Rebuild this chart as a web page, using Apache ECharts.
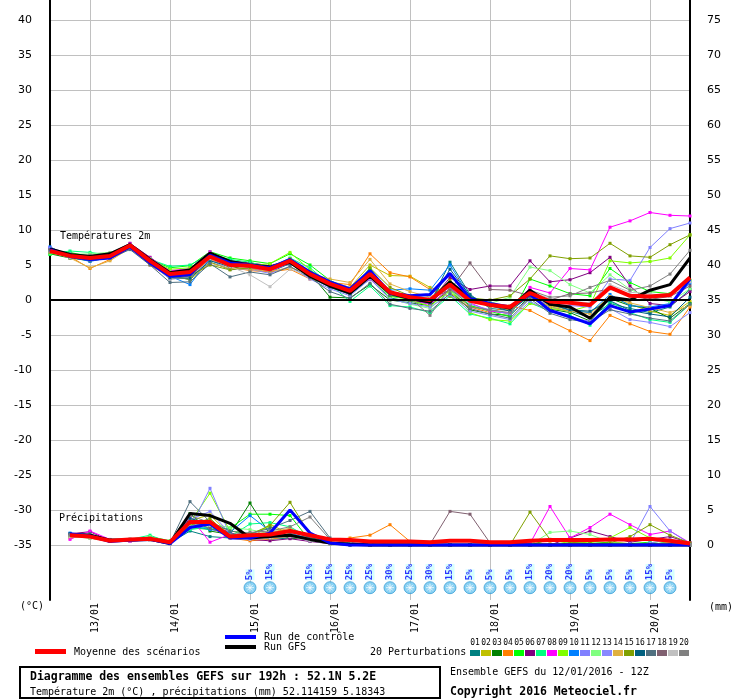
<!DOCTYPE html>
<html>
<head>
<meta charset="utf-8">
<script src="https://cdn.jsdelivr.net/npm/echarts@6/dist/echarts.min.js"></script>
<style>
  html, body { margin: 0; padding: 0; background: #fff; }
  #chart { width: 740px; height: 700px; }
</style>
</head>
<body>
<div id="chart"></div>
<script>
// time steps of the run (6h), 12/01 12Z -> 20/01 12Z
const times = [
  '12/01 12Z', '12/01 18Z', '13/01 00Z', '13/01 06Z', '13/01 12Z', '13/01 18Z',
  '14/01 00Z', '14/01 06Z', '14/01 12Z', '14/01 18Z', '15/01 00Z', '15/01 06Z',
  '15/01 12Z', '15/01 18Z', '16/01 00Z', '16/01 06Z', '16/01 12Z', '16/01 18Z',
  '17/01 00Z', '17/01 06Z', '17/01 12Z', '17/01 18Z', '18/01 00Z', '18/01 06Z',
  '18/01 12Z', '18/01 18Z', '19/01 00Z', '19/01 06Z', '19/01 12Z', '19/01 18Z',
  '20/01 00Z', '20/01 06Z', '20/01 12Z'
];

const tempTicks = [-35, -30, -25, -20, -15, -10, -5, 0, 5, 10, 15, 20, 25, 30, 35, 40];
const rainTicks = [0, 5, 10, 15, 20, 25, 30, 35, 40, 45, 50, 55, 60, 65, 70, 75];

// temperature 2m (°C)
const tempMean    = [7.0, 6.3, 6.0, 6.3, 7.8, 5.6, 3.7, 4.0, 6.2, 5.0, 4.9, 4.4, 5.6, 3.7, 2.3, 1.3, 3.7, 1.1, 0.4, 0.0, 2.2, -0.1, -0.7, -1.0, 1.0, -0.2, -0.4, -0.7, 1.8, 0.6, 0.5, 0.7, 3.2];
const tempControl = [7.2, 6.2, 5.8, 6.0, 7.6, 5.3, 3.4, 3.6, 6.4, 5.3, 5.0, 4.6, 5.8, 4.0, 2.6, 1.6, 4.2, 1.0, 0.6, 0.8, 3.8, 0.2, -0.5, -1.0, 0.8, -1.5, -2.4, -3.4, -0.8, -1.7, -1.3, -0.8, 3.0];
const tempGfs     = [7.3, 6.5, 6.2, 6.6, 7.9, 5.8, 3.9, 4.3, 6.7, 5.5, 5.0, 4.7, 5.4, 3.4, 2.0, 1.0, 3.4, 1.0, 0.2, -0.3, 2.6, 0.2, -0.6, -1.2, 1.4, -0.6, -1.0, -2.6, 0.4, 0.0, 1.4, 2.2, 6.0];

const tempP01 = [7.2, 6.0, 5.9, 6.2, 7.5, 5.4, 3.2, 3.4, 6.0, 4.6, 4.5, 4.0, 5.2, 3.3, 1.8, 0.8, 3.0, 0.3, -0.2, -0.5, 5.4, 0.8, -1.2, -1.5, 0.5, -1.0, -1.6, -2.5, -0.5, -1.2, -1.8, -1.0, 1.5];
const tempP02 = [6.9, 6.4, 5.9, 6.4, 7.7, 5.3, 3.0, 3.2, 6.1, 4.8, 4.7, 4.2, 5.5, 3.6, 2.6, 1.8, 5.0, 3.5, 3.4, 1.8, 1.0, -0.8, -1.5, -2.0, 0.2, -0.8, -1.4, -1.8, 0.4, -0.6, -1.6, -2.2, -0.2];
const tempP03 = [6.6, 6.0, 5.6, 6.1, 7.6, 5.2, 3.5, 2.9, 5.4, 4.4, 5.2, 4.8, 5.8, 3.8, 0.4, 0.3, 2.2, 0.0, -0.4, -0.8, 1.5, -1.4, -2.0, -2.2, 0.5, -1.3, -1.8, -3.0, 0.2, -0.8, -1.2, -2.6, -0.5];
const tempP04 = [7.0, 6.2, 4.5, 5.8, 7.4, 5.0, 3.2, 3.5, 5.8, 4.7, 4.2, 4.0, 4.4, 3.0, 2.5, 2.2, 6.6, 3.9, 3.3, 1.5, 0.5, -1.0, -1.8, -0.8, -1.5, -3.0, -4.4, -5.8, -2.2, -3.4, -4.5, -4.9, -1.0];
const tempP05 = [6.5, 6.8, 6.2, 6.5, 7.8, 5.8, 4.6, 4.9, 6.9, 6.0, 5.6, 5.2, 6.6, 5.0, 2.8, 1.5, 4.5, 0.5, 0.2, -0.6, 1.6, -0.8, -1.6, -2.4, 3.0, 2.0, 0.9, 0.6, 4.5, 2.5, 1.2, 0.9, 2.8];
const tempP06 = [7.3, 6.4, 6.3, 6.6, 8.1, 6.1, 4.1, 4.4, 6.6, 5.6, 5.3, 4.9, 5.7, 3.9, 2.2, 0.8, 3.6, 0.8, 0.2, -0.2, 3.2, 1.5, 2.0, 2.0, 5.6, 2.6, 2.9, 3.9, 6.1, 2.0, -0.5, -0.8, 1.2];
const tempP07 = [6.6, 7.0, 6.8, 6.4, 7.4, 5.8, 4.8, 5.0, 6.5, 5.8, 5.4, 4.6, 6.0, 4.6, 2.2, -0.2, 2.0, -0.8, -1.0, -1.8, 0.6, -2.0, -2.6, -3.4, -0.4, -1.6, -2.2, -3.6, -0.2, -1.8, -2.8, -3.2, -0.6];
const tempP08 = [7.5, 6.4, 6.0, 6.6, 8.0, 6.0, 4.2, 4.5, 6.9, 5.2, 4.6, 4.1, 5.3, 3.3, 2.0, 1.2, 3.0, 0.9, 0.0, -0.6, 1.6, -0.4, -1.6, -1.9, 1.8, 1.0, 4.5, 4.3, 10.4, 11.3, 12.5, 12.1, 12.0];
const tempP09 = [6.8, 6.1, 6.2, 6.4, 7.7, 5.7, 4.4, 4.6, 6.4, 5.1, 4.9, 5.2, 6.8, 4.3, 2.4, 1.0, 3.2, 0.6, 0.0, -0.9, 1.4, -1.8, -2.8, -3.0, -0.5, -1.2, -1.6, -0.8, 5.6, 5.3, 5.5, 6.0, 9.3];
const tempP10 = [7.6, 6.2, 5.5, 6.1, 7.6, 5.6, 3.4, 2.2, 6.0, 4.8, 5.0, 4.5, 5.5, 3.8, 2.5, 1.4, 4.0, 1.4, 1.6, 1.4, 5.0, 0.5, -0.4, -1.0, 0.9, -0.5, -1.5, -1.8, 0.8, -0.8, -1.0, -0.5, 2.4];
const tempP11 = [7.4, 6.6, 6.0, 6.2, 7.5, 5.5, 3.4, 3.8, 6.2, 5.0, 4.8, 4.3, 5.4, 3.5, 2.0, 0.9, 3.5, 1.0, 0.5, -0.1, 1.8, -0.6, -1.4, -2.0, 0.2, -0.6, -0.8, -1.0, 3.0, 2.8, 7.5, 10.2, 11.0];
const tempP12 = [6.7, 6.5, 6.6, 6.8, 7.6, 5.9, 4.0, 4.2, 6.0, 5.2, 5.0, 4.7, 5.9, 4.1, 2.6, 1.7, 4.0, 0.2, -0.6, -1.2, 1.2, -0.3, -0.5, 0.4, 4.7, 4.2, 2.2, 1.0, 3.6, 1.5, 0.4, -0.3, 1.6];
const tempP13 = [7.1, 6.2, 5.7, 6.0, 7.3, 5.2, 3.0, 3.2, 5.7, 4.4, 4.4, 3.8, 4.8, 3.0, 1.6, 0.6, 3.0, 0.1, -0.5, -1.0, 0.8, -1.6, -2.2, -2.8, -0.2, -1.6, -2.6, -3.0, -1.2, -2.8, -3.2, -3.8, -1.8];
const tempP14 = [6.9, 6.0, 4.6, 5.6, 7.4, 5.1, 3.3, 3.0, 5.3, 4.5, 4.4, 4.1, 4.6, 3.8, 3.0, 2.5, 5.8, 2.3, 1.2, 0.4, 2.0, 0.4, -0.9, -1.4, 0.6, -1.0, -1.6, -2.0, 0.5, -0.4, -1.1, -1.8, -0.8];
const tempP15 = [6.8, 6.3, 5.8, 6.0, 7.5, 5.4, 3.6, 3.5, 5.0, 4.3, 4.6, 4.5, 5.9, 4.0, 2.1, 0.9, 4.6, 1.8, 0.6, 0.2, 2.8, 0.3, 0.0, 0.6, 3.0, 6.3, 5.9, 6.0, 8.1, 6.3, 6.1, 7.9, 9.3];
const tempP16 = [7.0, 6.1, 5.9, 6.2, 7.4, 5.3, 3.2, 3.1, 5.6, 4.8, 4.8, 4.3, 5.3, 3.4, 1.9, 0.9, 3.3, 0.7, 0.1, -0.4, 4.4, 0.6, -0.8, -1.6, 0.7, -0.6, -1.4, -1.6, -0.1, -1.5, -2.0, -2.4, 0.4];
const tempP17 = [7.2, 6.4, 5.6, 6.0, 7.2, 5.0, 2.5, 2.6, 5.2, 3.3, 4.0, 3.6, 4.8, 3.2, 1.2, 0.2, 2.4, -0.6, -1.2, -1.6, 0.9, -1.2, -2.0, -2.6, 0.2, -1.9, -2.8, -3.2, -1.4, -2.0, -2.6, -3.0, -0.6];
const tempP18 = [7.1, 6.3, 6.0, 6.4, 7.7, 5.6, 3.6, 3.9, 6.2, 5.2, 5.0, 4.4, 5.6, 3.6, 2.1, 1.1, 3.4, 0.8, 0.5, 0.2, 1.4, 5.3, 1.5, 1.4, 0.6, 0.0, 0.9, 1.0, 1.6, 0.6, 0.1, 0.5, 2.0];
const tempP19 = [6.9, 6.1, 6.1, 6.3, 7.5, 5.5, 3.8, 4.0, 5.9, 4.8, 3.6, 1.9, 4.4, 3.5, 2.6, 1.8, 3.8, 1.2, 0.6, 0.3, 2.0, -0.2, -0.6, -0.8, 1.2, 0.2, -0.2, -0.4, 2.2, 1.1, 0.9, 0.5, 2.6];
const tempP20 = [7.0, 6.5, 6.4, 6.7, 7.9, 5.8, 3.9, 4.2, 6.3, 5.0, 4.9, 4.4, 5.6, 3.7, 2.4, 1.4, 3.9, 1.2, 0.3, -2.2, 1.8, -1.0, -1.4, -1.8, 1.4, 0.4, 0.6, 1.8, 2.8, 1.4, 2.0, 3.7, 7.1];

// precipitation (mm), from the +6h step onward
const rainMean    = [1.4, 1.2, 0.6, 0.8, 0.9, 0.4, 3.3, 3.3, 1.2, 1.4, 1.5, 2.0, 1.4, 0.8, 0.7, 0.5, 0.5, 0.5, 0.4, 0.6, 0.6, 0.4, 0.4, 0.6, 0.7, 0.7, 0.7, 0.8, 0.8, 0.9, 0.6, 0.2];
const rainControl = [1.6, 1.3, 0.5, 0.7, 0.8, 0.2, 2.5, 3.0, 1.0, 1.0, 1.7, 5.0, 1.7, 0.3, 0.0, 0.0, 0.0, 0.0, 0.0, 0.0, 0.0, 0.0, 0.0, 0.0, 0.0, 0.0, 0.0, 0.0, 0.0, 0.0, 0.0, 0.0];
const rainGfs     = [1.5, 1.4, 0.7, 0.7, 0.8, 0.2, 4.5, 4.2, 3.1, 1.0, 1.2, 1.4, 0.8, 0.3, 0.1, 0.0, 0.0, 0.0, 0.0, 0.0, 0.0, 0.0, 0.0, 0.0, 0.0, 0.0, 0.0, 0.0, 0.0, 0.0, 0.0, 0.0];

const rainP01 = [1.4, 1.2, 0.6, 0.6, 0.8, 0.3, 2.0, 1.2, 1.0, 1.6, 0.8, 1.0, 1.0, 0.4, 0.3, 0.2, 0.4, 0.0, 0.1, 0.0, 0.0, 0.0, 0.2, 0.1, 0.0, 0.3, 0.2, 0.0, 0.1, 0.0, 0.2, 0.0];
const rainP02 = [1.2, 1.0, 0.5, 0.7, 0.8, 0.3, 3.5, 4.3, 1.5, 0.8, 3.0, 1.5, 0.6, 0.2, 0.1, 0.0, 0.2, 0.1, 0.0, 0.0, 0.0, 0.0, 0.0, 0.3, 0.1, 0.0, 0.0, 0.4, 0.2, 0.0, 0.5, 0.0];
const rainP03 = [1.5, 1.3, 0.7, 0.8, 1.0, 0.5, 4.5, 2.0, 1.5, 6.0, 1.5, 1.0, 0.8, 0.2, 0.3, 0.0, 0.0, 0.0, 0.0, 0.0, 0.0, 0.0, 0.0, 0.0, 0.0, 0.1, 0.0, 0.0, 0.0, 0.0, 0.0, 0.0];
const rainP04 = [1.0, 1.4, 0.5, 0.6, 0.7, 0.2, 2.6, 3.4, 1.0, 0.6, 0.8, 1.3, 1.2, 0.6, 1.0, 1.4, 2.9, 0.5, 0.0, 0.0, 0.0, 0.0, 0.0, 0.1, 0.0, 0.2, 0.0, 0.0, 0.0, 0.0, 0.3, 0.2];
const rainP05 = [1.3, 1.0, 0.6, 0.6, 1.2, 0.6, 2.5, 2.2, 2.4, 4.4, 4.4, 4.2, 0.6, 0.3, 0.2, 0.0, 0.1, 0.0, 0.0, 0.0, 0.0, 0.0, 0.0, 0.0, 0.8, 0.6, 0.5, 0.3, 0.2, 0.4, 0.0, 0.0];
const rainP06 = [1.6, 1.9, 0.6, 0.7, 0.8, 0.3, 3.0, 2.8, 1.8, 0.8, 0.6, 0.9, 0.5, 0.2, 0.3, 0.1, 0.0, 0.0, 0.0, 0.0, 0.0, 0.0, 0.3, 0.0, 0.0, 1.0, 2.0, 1.2, 0.4, 0.8, 1.2, 0.3];
const rainP07 = [1.5, 1.2, 0.7, 0.8, 1.4, 0.3, 2.2, 2.6, 1.2, 3.0, 3.2, 2.6, 1.0, 0.4, 0.1, 0.0, 0.0, 0.0, 0.0, 0.0, 0.0, 0.0, 0.0, 0.0, 0.0, 0.0, 0.0, 0.2, 0.0, 0.0, 0.5, 0.0];
const rainP08 = [0.8, 2.0, 0.8, 0.5, 0.8, 0.2, 4.0, 0.4, 1.5, 1.4, 1.8, 1.2, 0.9, 0.3, 0.2, 0.0, 0.0, 0.0, 0.0, 0.0, 0.0, 0.0, 0.0, 0.2, 5.5, 1.0, 2.5, 4.4, 2.9, 1.5, 2.0, 0.3];
const rainP09 = [1.2, 1.1, 0.6, 0.7, 1.0, 0.3, 3.2, 7.4, 2.0, 1.6, 2.6, 1.6, 0.8, 0.2, 0.0, 0.0, 0.0, 0.0, 0.0, 0.0, 0.0, 0.0, 0.0, 0.0, 0.0, 0.5, 0.3, 1.0, 2.5, 1.0, 0.5, 0.0];
const rainP10 = [1.7, 1.4, 0.6, 0.7, 0.9, 0.2, 2.8, 2.2, 1.8, 4.2, 2.0, 1.7, 0.9, 0.3, 0.2, 0.0, 0.0, 0.0, 0.0, 0.0, 0.0, 0.0, 0.0, 0.0, 0.0, 0.0, 0.0, 0.0, 0.0, 0.2, 0.0, 0.0];
const rainP11 = [1.4, 1.2, 0.6, 0.8, 0.8, 0.3, 2.4, 8.1, 1.4, 1.2, 1.8, 1.4, 0.8, 0.3, 0.1, 0.0, 0.0, 0.0, 0.0, 0.0, 0.0, 0.0, 0.0, 0.0, 0.0, 0.0, 0.0, 0.0, 0.2, 5.5, 2.0, 0.2];
const rainP12 = [1.3, 1.5, 0.7, 0.8, 1.2, 0.4, 2.8, 3.0, 2.5, 2.2, 1.6, 2.2, 1.2, 0.4, 0.2, 0.0, 0.0, 0.0, 0.0, 0.0, 0.0, 0.0, 0.0, 0.0, 1.8, 2.0, 1.5, 0.4, 0.0, 0.0, 0.3, 0.0];
const rainP13 = [1.5, 1.1, 0.5, 0.6, 0.7, 0.2, 3.6, 4.8, 1.6, 1.0, 1.4, 1.3, 0.6, 0.2, 0.0, 0.0, 0.0, 0.0, 0.0, 0.0, 0.0, 0.0, 0.0, 0.0, 0.0, 0.0, 0.0, 0.0, 0.0, 0.3, 0.8, 0.0];
const rainP14 = [1.2, 1.3, 0.7, 0.7, 0.8, 0.3, 3.0, 3.5, 1.4, 1.0, 1.8, 2.4, 1.0, 0.3, 0.1, 0.0, 0.3, 0.2, 0.0, 0.0, 0.0, 0.0, 0.0, 0.0, 0.2, 0.0, 0.0, 0.0, 0.0, 0.0, 0.4, 0.0];
const rainP15 = [1.3, 1.2, 0.6, 0.7, 0.8, 0.3, 2.8, 3.8, 1.2, 1.5, 2.8, 6.1, 1.5, 0.4, 0.1, 0.0, 0.0, 0.0, 0.0, 0.0, 0.0, 0.0, 0.0, 4.7, 0.8, 0.4, 0.2, 0.3, 1.2, 2.9, 1.4, 0.3];
const rainP16 = [1.6, 1.3, 0.6, 0.7, 0.9, 0.2, 3.8, 3.0, 1.6, 1.2, 1.3, 1.9, 1.1, 0.4, 0.0, 0.0, 0.0, 0.0, 0.0, 0.0, 0.0, 0.0, 0.0, 0.0, 0.0, 0.0, 0.0, 0.0, 0.0, 0.0, 0.0, 0.0];
const rainP17 = [1.5, 1.6, 0.6, 0.8, 0.9, 0.3, 6.2, 3.3, 2.0, 1.6, 2.4, 3.5, 4.8, 1.0, 0.2, 0.0, 0.0, 0.0, 0.0, 0.0, 0.0, 0.0, 0.0, 0.0, 0.0, 0.0, 0.0, 0.0, 0.0, 0.0, 0.0, 0.0];
const rainP18 = [1.4, 1.2, 0.6, 0.7, 0.8, 0.2, 3.4, 2.4, 1.3, 1.0, 1.2, 1.5, 0.9, 0.3, 0.0, 0.0, 0.3, 0.3, 0.1, 4.8, 4.4, 0.3, 0.0, 0.0, 0.0, 0.0, 0.0, 0.0, 0.0, 0.0, 0.0, 0.0];
const rainP19 = [1.2, 1.0, 0.5, 0.6, 0.7, 0.2, 2.6, 2.8, 1.0, 0.8, 1.0, 1.2, 0.6, 0.2, 0.1, 0.0, 0.0, 0.0, 0.0, 0.0, 0.0, 0.0, 0.0, 0.0, 0.0, 0.0, 0.0, 0.0, 0.0, 0.0, 0.0, 0.0];
const rainP20 = [1.4, 1.3, 0.6, 0.8, 1.0, 0.3, 4.2, 3.2, 1.5, 1.8, 2.0, 2.6, 4.0, 0.8, 0.2, 0.0, 0.0, 0.0, 0.0, 0.0, 0.0, 0.0, 0.0, 0.0, 0.0, 0.0, 0.0, 0.0, 0.0, 0.0, 0.0, 0.0];

// snow probability (%) per step, null = no icon
const snowPct = [null, null, null, null, null, null, null, null, null, null, 5, 15, null, 15, 15, 25, 25, 30, 25, 30, 15, 5, 5, 5, 15, 20, 20, 5, 5, 5, 15, 5, null];

const memberColors = [
  '#008080', '#c0c000', '#008000', '#ff8000', '#00ff00', '#800080', '#00ff80', '#ff00ff', '#80ff00', '#0080ff',
  '#8080ff', '#80ff80', '#8888ff', '#e0b040', '#80a000', '#006080', '#507080', '#806070', '#c0c0c0', '#808080'
];
const tempMembers = [tempP01, tempP02, tempP03, tempP04, tempP05, tempP06, tempP07, tempP08, tempP09, tempP10,
                     tempP11, tempP12, tempP13, tempP14, tempP15, tempP16, tempP17, tempP18, tempP19, tempP20];
const rainMembers = [rainP01, rainP02, rainP03, rainP04, rainP05, rainP06, rainP07, rainP08, rainP09, rainP10,
                     rainP11, rainP12, rainP13, rainP14, rainP15, rainP16, rainP17, rainP18, rainP19, rainP20];

const MONO = 'DejaVu Sans Mono';
// 7 px per degree, 0 line in the middle of a 600 px high plot
const T_MIN = -300 / 7, T_MAX = 300 / 7;
const isDay = (i, v) => v.endsWith('00Z');

const chart = echarts.init(document.getElementById('chart'));

const series = [];
tempMembers.forEach((arr, k) => {
  series.push({
    type: 'line', data: arr, yAxisIndex: 0,
    symbol: 'rect', symbolSize: 3, showSymbol: true,
    lineStyle: { width: 1, color: memberColors[k] },
    itemStyle: { color: memberColors[k] },
    silent: true, z: 2
  });
});
rainMembers.forEach((arr, k) => {
  series.push({
    type: 'line', data: [null].concat(arr), yAxisIndex: 1,
    symbol: 'rect', symbolSize: 3, showSymbol: true,
    lineStyle: { width: 1, color: memberColors[k] },
    itemStyle: { color: memberColors[k] },
    silent: true, z: 2
  });
});

const thick = (data, color, width, axis) => ({
  type: 'line', data: data, yAxisIndex: axis, symbol: 'none',
  lineStyle: { width: width, color: color }, itemStyle: { color: color }, silent: true, z: 3
});
series.push(thick(tempGfs, '#000000', 3, 0));
series.push(thick(tempControl, '#0000ff', 3, 0));
series.push(thick([null].concat(rainGfs), '#000000', 3, 1));
series.push(thick([null].concat(rainControl), '#0000ff', 3, 1));
series.push(Object.assign(thick(tempMean, '#ff0000', 4, 0), {
  z: 4,
  markLine: {
    silent: true, symbol: 'none', label: { show: false },
    lineStyle: { color: '#000', width: 2, type: 'solid' },
    data: [{ yAxis: 0 }]
  }
}));
series.push(Object.assign(thick([null].concat(rainMean), '#ff0000', 4, 1), { z: 4 }));

// snow icons below the plot
const snowData = snowPct.map((p, i) => (p == null ? null : [i, -41.1]));
series.push({
  type: 'scatter', data: snowData, yAxisIndex: 0, symbol: 'circle', symbolSize: 12,
  itemStyle: { color: '#6cc6f0', borderColor: '#3a9fd6', borderWidth: 1 },
  label: {
    show: true, position: 'top', distance: 1, rotate: 90, align: 'left', verticalAlign: 'middle',
    formatter: p => snowPct[p.dataIndex] + '%',
    color: '#0000ff', fontSize: 9, fontWeight: 'bold', fontFamily: MONO,
    backgroundColor: '#ccffff'
  },
  silent: true, z: 5
});
series.push({
  type: 'scatter', data: snowData, yAxisIndex: 0,
  symbol: 'path://M5 0L5 10M0 5L10 5M1.5 1.5L8.5 8.5M8.5 1.5L1.5 8.5', symbolSize: 8,
  itemStyle: { color: 'none', borderColor: '#ffffff', borderWidth: 1 },
  silent: true, z: 6
});

// legend + captions
const graphics = [
  { type: 'text', x: 20, y: 606, style: { text: '(°C)', font: '10px ' + MONO, fill: '#000', verticalAlign: 'middle' } },
  { type: 'text', x: 709, y: 607, style: { text: '(mm)', font: '10px ' + MONO, fill: '#000', verticalAlign: 'middle' } },
  { type: 'text', x: 60, y: 236, z: 10, style: { text: 'Températures 2m', font: '10px ' + MONO, fill: '#000', verticalAlign: 'middle' } },
  { type: 'text', x: 59, y: 518, z: 10, style: { text: 'Précipitations', font: '10px ' + MONO, fill: '#000', verticalAlign: 'middle' } },
  { type: 'rect', shape: { x: 35, y: 649, width: 31, height: 5 }, style: { fill: '#ff0000' } },
  { type: 'text', x: 74, y: 652, style: { text: 'Moyenne des scénarios', font: '10px ' + MONO, fill: '#000', verticalAlign: 'middle' } },
  { type: 'rect', shape: { x: 225, y: 635, width: 31, height: 4 }, style: { fill: '#0000ff' } },
  { type: 'text', x: 264, y: 637, style: { text: 'Run de contrôle', font: '10px ' + MONO, fill: '#000', verticalAlign: 'middle' } },
  { type: 'rect', shape: { x: 225, y: 645, width: 31, height: 4 }, style: { fill: '#000000' } },
  { type: 'text', x: 264, y: 647, style: { text: 'Run GFS', font: '10px ' + MONO, fill: '#000', verticalAlign: 'middle' } },
  { type: 'text', x: 370, y: 652, style: { text: '20 Perturbations', font: '10px ' + MONO, fill: '#000', verticalAlign: 'middle' } },
  { type: 'rect', shape: { x: 20, y: 667, width: 420, height: 31 }, style: { fill: '#fff', stroke: '#000', lineWidth: 2 } },
  { type: 'text', x: 30, y: 677, style: { text: 'Diagramme des ensembles GEFS sur 192h : 52.1N 5.2E', font: 'bold 11.5px ' + MONO, fill: '#000', verticalAlign: 'middle' } },
  { type: 'text', x: 30, y: 692, style: { text: 'Température 2m (°C) , précipitations (mm) 52.114159 5.18343', font: '10px ' + MONO, fill: '#000', verticalAlign: 'middle' } },
  { type: 'text', x: 450, y: 672, style: { text: 'Ensemble GEFS du 12/01/2016 - 12Z', font: '10px ' + MONO, fill: '#000', verticalAlign: 'middle' } },
  { type: 'text', x: 450, y: 692, style: { text: 'Copyright 2016 Meteociel.fr', font: 'bold 11.5px ' + MONO, fill: '#000', verticalAlign: 'middle' } }
];
memberColors.forEach((c, k) => {
  graphics.push({ type: 'rect', shape: { x: 470 + 11 * k, y: 650, width: 10, height: 6 }, style: { fill: c } });
  graphics.push({ type: 'text', x: 475 + 11 * k, y: 643, style: { text: String(k + 1).padStart(2, '0'), font: '8px ' + MONO, fill: '#000', align: 'center', verticalAlign: 'middle' } });
});

const option = {
  animation: false,
  backgroundColor: '#fff',
  grid: { left: 50, right: 50, top: 0, bottom: 100, outerBoundsMode: 'none' },
  xAxis: {
    type: 'category', data: times, boundaryGap: false,
    axisLine: { lineStyle: { color: '#000', width: 2 } },
    axisTick: { show: true, interval: isDay, length: 3, lineStyle: { color: '#c0c0c0' } },
    axisLabel: {
      interval: isDay, rotate: 90, margin: 3, verticalAlign: 'top',
      formatter: v => v.slice(0, 5),
      fontFamily: MONO, fontSize: 10, color: '#000'
    },
    splitLine: { show: true, interval: isDay, lineStyle: { color: '#c0c0c0', width: 1 } }
  },
  yAxis: [
    {
      type: 'value', min: T_MIN, max: T_MAX,
      axisLine: { show: true, lineStyle: { color: '#000', width: 2 } },
      axisTick: { show: false, customValues: tempTicks },
      axisLabel: { customValues: tempTicks, margin: 18, fontFamily: 'DejaVu Sans', fontSize: 11, color: '#000' },
      splitLine: { show: true, lineStyle: { color: '#c0c0c0', width: 1 } }
    },
    {
      type: 'value', min: T_MIN + 35, max: T_MAX + 35, position: 'right',
      axisLine: { show: true, lineStyle: { color: '#000', width: 2 } },
      axisTick: { show: false, customValues: rainTicks },
      axisLabel: { customValues: rainTicks, margin: 17, fontFamily: 'DejaVu Sans', fontSize: 11, color: '#000' },
      splitLine: { show: false }
    }
  ],
  series: series,
  graphic: graphics
};

chart.setOption(option);
</script>
</body>
</html>
